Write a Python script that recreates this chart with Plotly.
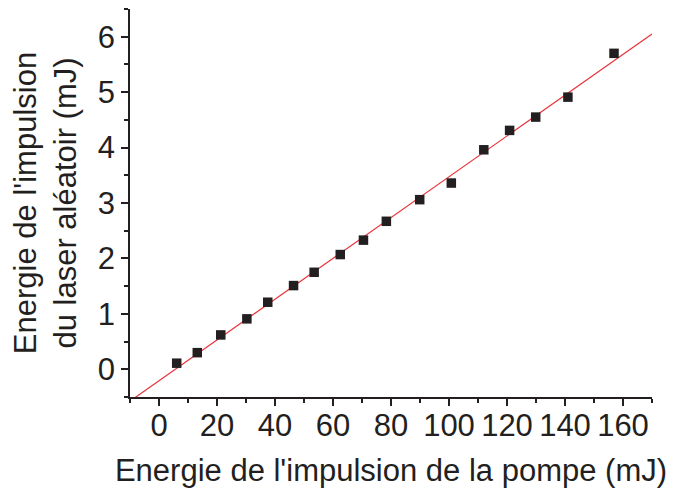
import plotly.graph_objects as go

pump_energy = [6.1, 13.2, 21.3, 30.3, 37.5, 46.4, 53.5, 62.5, 70.5, 78.4,
               89.9, 100.8, 112.0, 120.9, 129.9, 141.0, 156.9]
laser_energy = [0.11, 0.30, 0.62, 0.91, 1.21, 1.51, 1.75, 2.07, 2.33, 2.67,
                3.06, 3.36, 3.96, 4.31, 4.55, 4.91, 5.70]
fit_slope = 0.0368
fit_intercept = -0.207
fit_x = [-10, 170]
fit_y = [fit_intercept + fit_slope * v for v in fit_x]

x_ticks = [0, 20, 40, 60, 80, 100, 120, 140, 160]
y_ticks = [0, 1, 2, 3, 4, 5, 6]

axis_col = "#231f20"
font_fam = "Liberation Sans, Arial, sans-serif"
FS = 31

fig = go.Figure()
fig.add_trace(go.Scatter(x=fit_x, y=fit_y, mode="lines",
                         line=dict(color="#e8323a", width=1.2),
                         showlegend=False, hoverinfo="skip"))
fig.add_trace(go.Scatter(x=pump_energy, y=laser_energy, mode="markers",
                         marker=dict(symbol="square", size=9.5, color=axis_col),
                         showlegend=False, cliponaxis=False))

fig.update_layout(
    width=669, height=485,
    margin=dict(l=122, r=25, t=1, b=96),
    paper_bgcolor="white", plot_bgcolor="white",
    font=dict(family=font_fam, color=axis_col),
    xaxis=dict(
        range=[-10, 170], tickvals=x_ticks, ticktext=[str(v) for v in x_ticks],
        automargin=False, ticklabelstandoff=-7,
        showgrid=False, zeroline=False, showline=True, linecolor=axis_col, linewidth=1.8,
        ticks="outside", ticklen=7, tickwidth=1.5, tickcolor=axis_col,
        tickfont=dict(size=FS, family=font_fam, color=axis_col),
        minor=dict(ticks="outside", ticklen=4, tickwidth=1.5, tickcolor=axis_col,
                   dtick=10, tick0=0, showgrid=False),
        title=dict(text="Energie de l'impulsion de la pompe (mJ)",
                   font=dict(size=FS, family=font_fam, color=axis_col), standoff=17),
    ),
    yaxis=dict(
        range=[-0.5, 6.5], tickvals=y_ticks, ticktext=[str(v) for v in y_ticks],
        automargin=False,
        showgrid=False, zeroline=False, showline=True, linecolor=axis_col, linewidth=1.8,
        ticks="outside", ticklen=7, tickwidth=1.5, tickcolor=axis_col,
        tickfont=dict(size=FS, family=font_fam, color=axis_col),
        minor=dict(ticks="outside", ticklen=4, tickwidth=1.5, tickcolor=axis_col,
                   dtick=0.5, tick0=0, showgrid=False),
        title=dict(text="Energie de l'impulsion<br>du laser aléatoir (mJ)",
                   font=dict(size=FS, family=font_fam, color=axis_col), standoff=12),
    ),
)

fig.write_html("out.html")
